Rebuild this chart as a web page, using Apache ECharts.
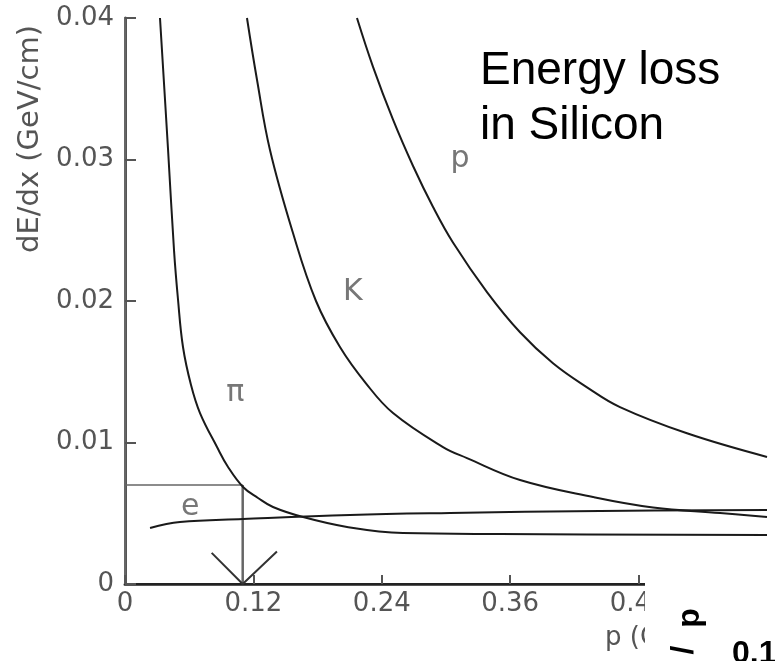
<!DOCTYPE html>
<html>
<head>
<meta charset="utf-8">
<script src="https://cdn.jsdelivr.net/npm/echarts@6/dist/echarts.min.js"></script>
<style>
  html, body { margin: 0; padding: 0; background: #fff; }
  #chart { width: 775px; height: 661px; }
</style>
</head>
<body>
<div id="chart"></div>
<script>
// Curvas dE/dx vs p (GeV/c)
const pion = [
  [0.0327, 0.0400], [0.0402, 0.03074], [0.0458, 0.0236], [0.0495, 0.02014],
  [0.0542, 0.01675], [0.0617, 0.01406], [0.0701, 0.01208], [0.0860, 0.00968],
  [0.0963, 0.00827], [0.1103, 0.00686], [0.1243, 0.00608], [0.1383, 0.00544],
  [0.1664, 0.00473], [0.2075, 0.00403], [0.2598, 0.00360], [0.3505, 0.00353],
  [0.6000, 0.00346]
];
const kaon = [
  [0.1140, 0.0400], [0.1234, 0.03562], [0.1355, 0.03067], [0.1570, 0.02480],
  [0.1785, 0.02000], [0.2009, 0.01675], [0.2250, 0.01420], [0.2505, 0.01208],
  [0.2972, 0.00968], [0.3196, 0.00890], [0.3692, 0.00735], [0.4374, 0.00615],
  [0.4935, 0.00541], [0.5561, 0.00502], [0.6000, 0.00473]
];
const proton = [
  [0.2168, 0.0400], [0.2318, 0.03655], [0.2505, 0.03281], [0.2692, 0.02954],
  [0.2879, 0.02664], [0.3065, 0.02413], [0.3383, 0.02063], [0.3692, 0.01779],
  [0.4000, 0.01560], [0.4318, 0.01390], [0.4626, 0.01250], [0.5252, 0.01065],
  [0.6000, 0.00898]
];
const electron = [
  [0.0234, 0.00396], [0.0514, 0.00438], [0.1103, 0.00459], [0.2103, 0.00488],
  [0.3037, 0.00502], [0.4439, 0.00516], [0.6000, 0.00523]
];

// Guia: corte en dE/dx = 0.007 y flecha hacia p = 0.11
const guideH = [[0, 0.007], [0.11, 0.007]];
const guideV = [[0.11, 0.007], [0.11, 0]];
const arrowHead = [[0.081, 0.0022], [0.11, 0], [0.142, 0.0023]];

// Etiquetas de las curvas
const curveLabels = [
  { name: 'p', value: [0.313, 0.0300] },
  { name: 'K', value: [0.213, 0.0206] },
  { name: 'π', value: [0.103, 0.0135] },
  { name: 'e', value: [0.061, 0.00544] }
];

const xMin = 0, xMax = 0.6, xStep = 0.12;
const yMin = 0, yMax = 0.04, yStep = 0.01;

const GREY = '#555';
const FONT = 'DejaVu Sans';
const fmt = (v) => (v === 0 ? '0' : v.toFixed(2));

const chart = echarts.init(document.getElementById('chart'), null, { renderer: 'canvas' });

const curve = (data) => ({
  type: 'line',
  data,
  smooth: 0.4,
  showSymbol: false,
  silent: true,
  lineStyle: { color: '#1a1a1a', width: 2 },
  z: 3
});

chart.setOption({
  animation: false,
  backgroundColor: '#fff',
  grid: { left: 125, top: 18, width: 642, height: 566 },
  xAxis: [
    {
      type: 'value', min: xMin, max: xMax, interval: xStep,
      axisLine: { show: true, lineStyle: { color: GREY, width: 3 } },
      axisTick: { show: true, inside: true, length: 9, lineStyle: { color: GREY, width: 2 } },
      axisLabel: { color: GREY, fontFamily: FONT, fontSize: 26, margin: 7, formatter: fmt, showMaxLabel: false },
      splitLine: { show: false }
    },
    {
      type: 'value', position: 'top', min: xMin, max: xMax,
      axisLine: { show: true, lineStyle: { color: '#222', width: 2 } },
      axisTick: { show: false }, axisLabel: { show: false }, splitLine: { show: false }
    }
  ],
  yAxis: [
    {
      type: 'value', min: yMin, max: yMax, interval: yStep,
      axisLine: { show: true, lineStyle: { color: GREY, width: 3 } },
      axisTick: { show: true, inside: true, length: 11, lineStyle: { color: GREY, width: 2 } },
      axisLabel: { color: GREY, fontFamily: FONT, fontSize: 26, margin: 11, formatter: fmt },
      splitLine: { show: false }
    },
    {
      type: 'value', position: 'right', min: yMin, max: yMax,
      axisLine: { show: true, lineStyle: { color: '#666', width: 2 } },
      axisTick: { show: false }, axisLabel: { show: false }, splitLine: { show: false }
    }
  ],
  series: [
    curve(pion),
    curve(kaon),
    curve(proton),
    curve(electron),
    {
      type: 'line', data: guideH, showSymbol: false, silent: true,
      lineStyle: { color: '#666', width: 1.5 }, z: 2
    },
    {
      type: 'line', data: guideV, showSymbol: false, silent: true,
      lineStyle: { color: '#666', width: 2.5 }, z: 2
    },
    {
      type: 'line', data: arrowHead, showSymbol: false, silent: true,
      lineStyle: { color: '#333', width: 2 }, z: 2
    },
    {
      type: 'scatter', data: curveLabels, symbolSize: 1, silent: true,
      itemStyle: { color: 'rgba(0,0,0,0)' },
      label: {
        show: true, position: 'inside', formatter: (p) => p.name,
        color: GREY, fontFamily: FONT, fontSize: 30
      },
      z: 4
    }
  ],
  graphic: [
    {
      type: 'text', x: 30, y: 139, rotation: Math.PI / 2,
      style: {
        text: 'dE/dx (GeV/cm)', fill: GREY, fontFamily: FONT, fontSize: 29,
        align: 'center', verticalAlign: 'middle'
      }
    },
    {
      type: 'text', x: 605, y: 638,
      style: {
        text: 'p (GeV/c)', fill: GREY, fontFamily: FONT, fontSize: 26,
        align: 'left', verticalAlign: 'middle'
      }
    },
    {
      type: 'text', x: 480, y: 71,
      style: {
        text: 'Energy loss', fill: '#000', fontFamily: 'Liberation Sans', fontSize: 46,
        align: 'left', verticalAlign: 'middle'
      }
    },
    {
      type: 'text', x: 480, y: 126,
      style: {
        text: 'in Silicon', fill: '#000', fontFamily: 'Liberation Sans', fontSize: 46,
        align: 'left', verticalAlign: 'middle'
      }
    },
    // recorte de la figura vecina superpuesta abajo a la derecha
    {
      type: 'rect', z: 100,
      shape: { x: 645, y: 570, width: 130, height: 91 },
      style: { fill: '#fff' }
    },
    {
      type: 'text', z: 101, x: 690, y: 618, rotation: Math.PI / 2,
      style: {
        text: 'p', fill: '#000', fontFamily: 'Liberation Sans', fontWeight: 'bold', fontSize: 32,
        align: 'center', verticalAlign: 'middle'
      }
    },
    {
      type: 'text', z: 101, x: 684, y: 650, rotation: Math.PI / 2,
      style: {
        text: '/', fill: '#000', fontFamily: 'Liberation Sans', fontWeight: 'bold', fontSize: 32,
        align: 'center', verticalAlign: 'middle'
      }
    },
    {
      type: 'text', z: 101, x: 732, y: 670,
      style: {
        text: '0.1', fill: '#000', fontFamily: 'Liberation Sans', fontWeight: 'bold', fontSize: 32,
        align: 'left', verticalAlign: 'bottom'
      }
    }
  ]
});
</script>
</body>
</html>
